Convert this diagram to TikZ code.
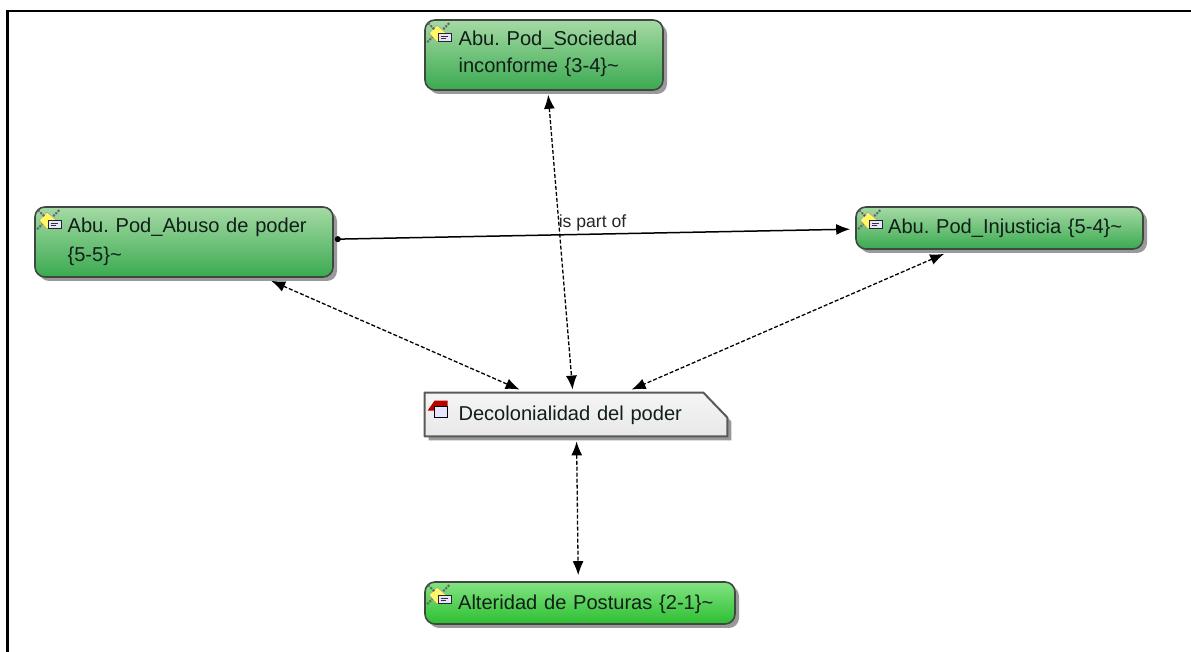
\documentclass[tikz,border=0pt]{standalone}
\usepackage{fontspec}
\setmainfont{Liberation Sans}
\usetikzlibrary{arrows.meta,calc,shadows}
\definecolor{edgegray}{RGB}{62,72,62}
\definecolor{grtopA}{RGB}{165,218,165}
\definecolor{grbotA}{RGB}{58,170,80}
\definecolor{grtopB}{RGB}{130,228,130}
\definecolor{grbotB}{RGB}{45,190,50}
\definecolor{txt}{RGB}{18,30,24}
\tikzset{
  x=.5pt,y=-.5pt,
  softshadow/.style={drop shadow={shadow xshift=2pt,shadow yshift=-2pt,opacity=.5,fill=black!80}},
  boxbase/.style={draw=edgegray,line width=.8pt,rounded corners=5pt,inner sep=0pt,softshadow},
  quotebox/.style={boxbase,top color=grtopA,bottom color=grbotA},
  quoteboxb/.style={boxbase,top color=grtopB,bottom color=grbotB},
  boxtext/.style={anchor=base west,inner sep=0pt,text width=150pt,align=left,font=\fontsize{10.05}{13.7}\selectfont\frenchspacing,text=txt},
  decoframe/.style={draw=black!65,line width=1pt,top color=white!96!black,bottom color=black!9,softshadow,line join=round},
  linklabel/.style={inner sep=0pt,font=\fontsize{8.8}{10}\selectfont\frenchspacing,text=black!85},
  assoc/.style={line width=.65pt,dash pattern=on 2pt off 1pt,{Latex[length=7pt,width=5.5pt]}-{Latex[length=7pt,width=5.5pt]}},
  partof/.style={line width=.75pt,{Circle[length=3pt]}-{Latex[length=7pt,width=5.5pt]}},
  quoteicon/.pic={
    \fill[yellow!60!white,draw=black!40,line width=.2pt] (13,6)--(22,14)--(13,23)--(5,14)--cycle;
    \draw[black!60,line width=1pt,dash pattern=on 1pt off .6pt] (4,4)--(10,10) (25,4)--(19,10) (3,23)--(8,18);
    \draw[black!85,fill=white!90!blue,line width=.5pt] (14,14) rectangle (27,22);
    \draw[black!80,line width=.4pt] (16.5,17)--(24,17) (16.5,19.5)--(22,19.5);
  },
  memoicon/.pic={
    \fill[red!72!black] (3,18)--(10,8)--(23,8)--(23,18)--cycle;
    \draw[black,fill=white!90!blue,line width=.6pt] (10,14) rectangle (23,25);
  }
}
\begin{document}
\begin{tikzpicture}
\useasboundingbox (0,0) rectangle (1191,652);
\draw[line width=1.2pt] (1191,11)--(7.5,11)--(7.5,652);

\node[quotebox,minimum width=119pt,minimum height=35pt] (soc) at (544,55) {};
\node[quotebox,minimum width=149pt,minimum height=35pt] (abu) at (184,242) {};
\node[quotebox,minimum width=143.5pt,minimum height=21pt] (inj) at (999.5,228) {};
\node[quoteboxb,minimum width=155pt,minimum height=21pt] (alt) at (580,603) {};
\node[inner sep=0pt,minimum width=151pt,minimum height=21.5pt] (deco) at (576,414.5) {};
\path[decoframe] (deco.north west) -- ($(deco.north east)+(-24,0)$) -- ($(deco.north east)+(0,25)$) -- (deco.south east) -- (deco.south west) -- cycle;

\pic at (soc.north west) {quoteicon};
\pic at (abu.north west) {quoteicon};
\pic at (inj.north west) {quoteicon};
\pic at (alt.north west) {quoteicon};
\pic at (deco.north west) {memoicon};

\node[boxtext] (soct) at ($(soc.north west)+(34,26)$) {Abu. Pod\_Sociedad\\inconforme \{3-4\}\textasciitilde};
\node[boxtext] (abut) at ($(abu.north west)+(33,26)$) {Abu. Pod\_Abuso de poder\\[1pt]\{5-5\}\textasciitilde};
\node[boxtext] (injt) at ($(inj.north west)+(32.5,27.5)$) {Abu. Pod\_Injusticia \{5-4\}\textasciitilde};
\node[boxtext] (altt) at ($(alt.north west)+(33.5,28)$) {Alteridad de Posturas \{2-1\}\textasciitilde};
\node[boxtext] (decot) at ($(deco.north west)+(33.5,28)$) {Decolonialidad del poder};

\draw[assoc] ($(soc.south west)+(124,4)$) -- ($(deco.north west)+(148,-3)$);
\draw[assoc] ($(abu.south west)+(237,3)$) -- ($(deco.north west)+(95,-3)$);
\draw[assoc] ($(inj.south west)+(89,4)$) -- ($(deco.north west)+(207,-3)$);
\draw[assoc] ($(deco.south west)+(152,5)$) -- ($(alt.north west)+(154,-6)$);
\draw[partof] ($(abu.north east)+(1,33)$) -- node[pos=.5,above=1pt,linklabel] (lbl) {is part of} ($(inj.north west)+(-5,23)$);
\end{tikzpicture}
\end{document}
